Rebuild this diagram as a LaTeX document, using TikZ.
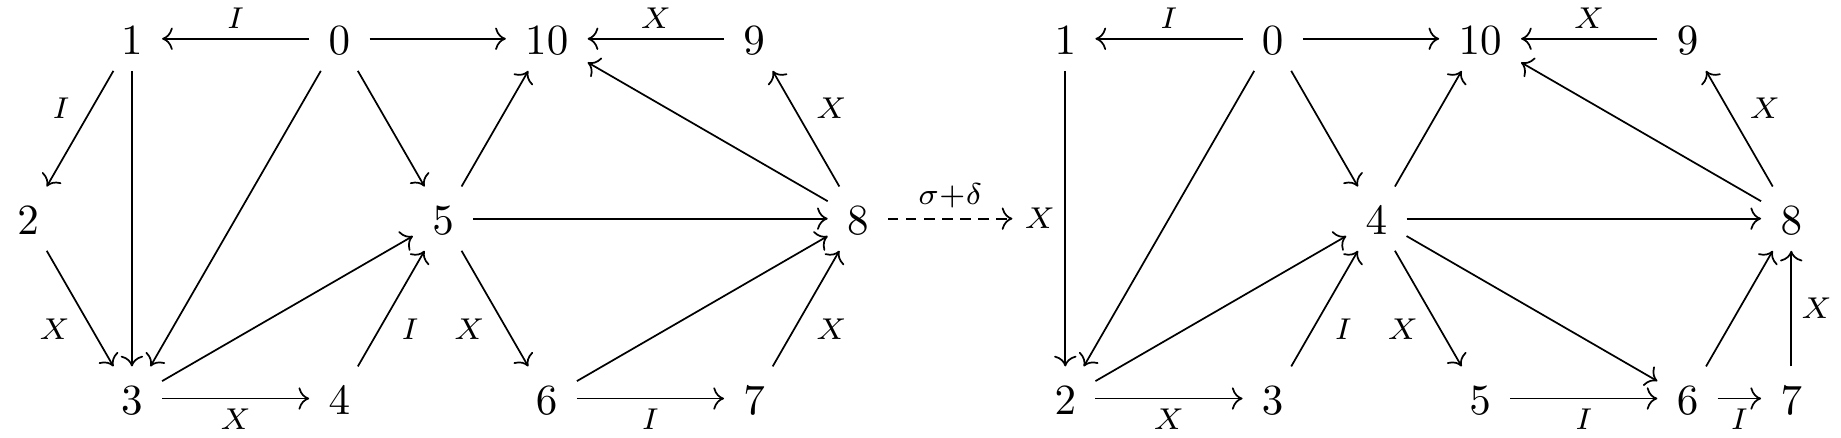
\documentclass[tikz,border=0pt]{standalone}
\usepackage{tikz}
\usetikzlibrary{arrows.meta}

\begin{document}
\begin{tikzpicture}[
  vtx/.style={inner xsep=1ex, inner ysep=0.85ex, text height=7.2pt, text depth=0pt},
  arr/.style={->, line width=0.4pt},
  lab/.style={auto=right, font=\scriptsize, inner sep=0.5ex},
  >={Computer Modern Rightarrow},
  x=24.1pt, y=-41.8pt
]
  \useasboundingbox (-0.272,-0.2155) rectangle (17.48,2.217);
  % left diagram
  \node[vtx] (l1)  at (1, 0) {$1$};
  \node[vtx] (l0)  at (3, 0) {$0$};
  \node[vtx] (l10) at (5, 0) {$10$};
  \node[vtx] (l9)  at (7, 0) {$9$};
  \node[vtx] (l2)  at (0, 1) {$2$};
  \node[vtx] (l5)  at (4, 1) {$5$};
  \node[vtx] (l8)  at (8, 1) {$8$};
  \node[vtx] (l3)  at (1, 2) {$3$};
  \node[vtx] (l4)  at (3, 2) {$4$};
  \node[vtx] (l6)  at (5, 2) {$6$};
  \node[vtx] (l7)  at (7, 2) {$7$};

  \draw[arr] (l0) -- node[lab] {$I$} (l1);
  \draw[arr] (l0) -- (l10);
  \draw[arr] (l9) -- node[lab] {$X$} (l10);
  \draw[arr] (l1) -- node[lab] {$I$} (l2);
  \draw[arr] (l1) -- (l3);
  \draw[arr] (l0) -- (l3);
  \draw[arr] (l0) -- (l5);
  \draw[arr] (l2) -- node[lab] {$X$} (l3);
  \draw[arr] (l3) -- node[lab] {$X$} (l4);
  \draw[arr] (l3) -- (l5);
  \draw[arr] (l4) -- node[lab] {$I$} (l5);
  \draw[arr] (l5) -- (l10);
  \draw[arr] (l5) -- node[lab] {$X$} (l6);
  \draw[arr] (l5) -- (l8);
  \draw[arr] (l6) -- node[lab] {$I$} (l7);
  \draw[arr] (l6) -- (l8);
  \draw[arr] (l7) -- node[lab] {$X$} (l8);
  \draw[arr] (l8) -- node[lab] {$X$} (l9);
  \draw[arr] (l8) -- (l10);

  % step between the two
  \coordinate (tgt) at (9.49, 1);
  \draw[arr, dash pattern=on 2.4pt off 1.8pt] (l8) -- node[above, font=\scriptsize, inner sep=0.5ex] {$\sigma{+}\delta$} (tgt);

  % right diagram
  \node[vtx] (r1)  at (10, 0) {$1$};
  \node[vtx] (r0)  at (12, 0) {$0$};
  \node[vtx] (r10) at (14, 0) {$10$};
  \node[vtx] (r9)  at (16, 0) {$9$};
  \node[vtx] (r4)  at (13, 1) {$4$};
  \node[vtx] (r8)  at (17, 1) {$8$};
  \node[vtx] (r2)  at (10, 2) {$2$};
  \node[vtx] (r3)  at (12, 2) {$3$};
  \node[vtx] (r5)  at (14, 2) {$5$};
  \node[vtx] (r6)  at (16, 2) {$6$};
  \node[vtx] (r7)  at (17, 2) {$7$};

  \draw[arr] (r0) -- node[lab] {$I$} (r1);
  \draw[arr] (r0) -- (r10);
  \draw[arr] (r9) -- node[lab] {$X$} (r10);
  \draw[arr] (r1) -- node[lab] {$X$} (r2);
  \draw[arr] (r0) -- (r2);
  \draw[arr] (r0) -- (r4);
  \draw[arr] (r2) -- node[lab] {$X$} (r3);
  \draw[arr] (r2) -- (r4);
  \draw[arr] (r3) -- node[lab] {$I$} (r4);
  \draw[arr] (r4) -- (r10);
  \draw[arr] (r4) -- (r8);
  \draw[arr] (r4) -- node[lab] {$X$} (r5);
  \draw[arr] (r4) -- (r6);
  \draw[arr] (r5) -- node[lab] {$I$} (r6);
  \draw[arr] (r6) -- node[lab] {$I$} (r7);
  \draw[arr] (r6) -- (r8);
  \draw[arr] (r7) -- node[lab] {$X$} (r8);
  \draw[arr] (r8) -- node[lab] {$X$} (r9);
  \draw[arr] (r8) -- (r10);
\end{tikzpicture}
\end{document}
